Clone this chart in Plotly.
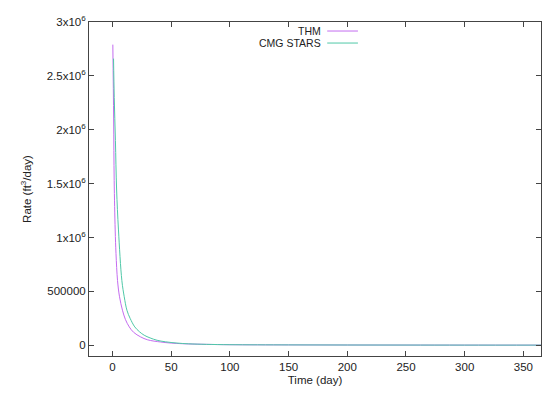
import plotly.graph_objects as go

# --- data ---
thm_time = [0.3, 1.0, 1.45, 2.3, 3.0, 4.3, 6.0, 8.5, 11, 14.3, 18, 24, 30, 41, 50, 60, 80, 100, 150, 200, 250, 300, 365]
thm_rate = [2.79e6, 2.1e6, 1.53e6, 1.07e6, 0.85e6, 0.60e6, 0.45e6, 0.325e6, 0.24e6, 0.17e6, 0.12e6,
            0.077e6, 0.05e6, 0.03e6, 0.02e6, 0.014e6, 0.008e6, 0.005e6, 0.003e6, 0.002e6, 0.0015e6, 0.0012e6, 0.001e6]

cmg_time = [0.9, 1.5, 2.5, 3.5, 5.1, 8.0, 10, 12.3, 15, 19, 23, 27, 32, 38, 45, 55, 65, 80, 100, 150, 200, 250, 300, 365]
cmg_rate = [2.66e6, 2.3e6, 1.9e6, 1.45e6, 1.07e6, 0.60e6, 0.45e6, 0.325e6, 0.25e6, 0.17e6, 0.125e6, 0.093e6,
            0.068e6, 0.046e6, 0.032e6, 0.02e6, 0.013e6, 0.008e6, 0.005e6, 0.003e6, 0.002e6, 0.0015e6, 0.0012e6, 0.001e6]

y_ticks = [0, 5e5, 1e6, 1.5e6, 2e6, 2.5e6, 3e6]
y_labels = ["0", "500000", "1x10<sup>6</sup>", "1.5x10<sup>6</sup>", "2x10<sup>6</sup>",
            "2.5x10<sup>6</sup>", "3x10<sup>6</sup>"]
x_ticks = [0, 50, 100, 150, 200, 250, 300, 350]

thm_color = "#c46cf0"
cmg_color = "#50c8a8"
font = dict(family="Liberation Sans", size=11.5, color="#222")

fig = go.Figure()
fig.add_trace(go.Scatter(x=thm_time, y=thm_rate, mode="lines", name="THM",
                         line=dict(color=thm_color, width=1), line_shape="spline"))
fig.add_trace(go.Scatter(x=cmg_time, y=cmg_rate, mode="lines", name="CMG STARS",
                         line=dict(color=cmg_color, width=1), line_shape="spline"))

axis_style = dict(showline=True, linecolor="#444", linewidth=1, mirror="ticks",
                  ticks="inside", ticklen=5, tickcolor="#444", showgrid=False, zeroline=False,
                  tickfont=font, automargin=False)

fig.update_xaxes(range=[-20, 365], tickvals=x_ticks,
                 title=dict(text="Time (day)", font=font, standoff=4),
                 **axis_style)
fig.update_yaxes(range=[-1e5, 3e6], tickvals=y_ticks, ticktext=y_labels,
                 title=dict(text="Rate (ft<sup>3</sup>/day)", font=font, standoff=12),
                 **axis_style)

# gnuplot-style key: right aligned text with the line sample after it
key_font = dict(family="Liberation Sans", size=10.5, color="#222")
key = [("THM", thm_color, 0.973), ("CMG STARS", cmg_color, 0.937)]
for label, colour, ky in key:
    fig.add_annotation(x=0.515, y=ky, xref="paper", yref="paper", text=label, showarrow=False,
                       xanchor="right", yanchor="middle", font=key_font, borderpad=0)
    fig.add_shape(type="line", xref="paper", yref="paper", x0=0.527, x1=0.595, y0=ky, y1=ky,
                  line=dict(color=colour, width=1))

# the page body has an 8px margin, so the figure is drawn 8px in from the corner
fig.update_layout(
    width=542, height=386,
    margin=dict(l=81, r=9, t=14, b=38),
    plot_bgcolor="white", paper_bgcolor="white",
    showlegend=False,
)

fig.write_html("out.html")
